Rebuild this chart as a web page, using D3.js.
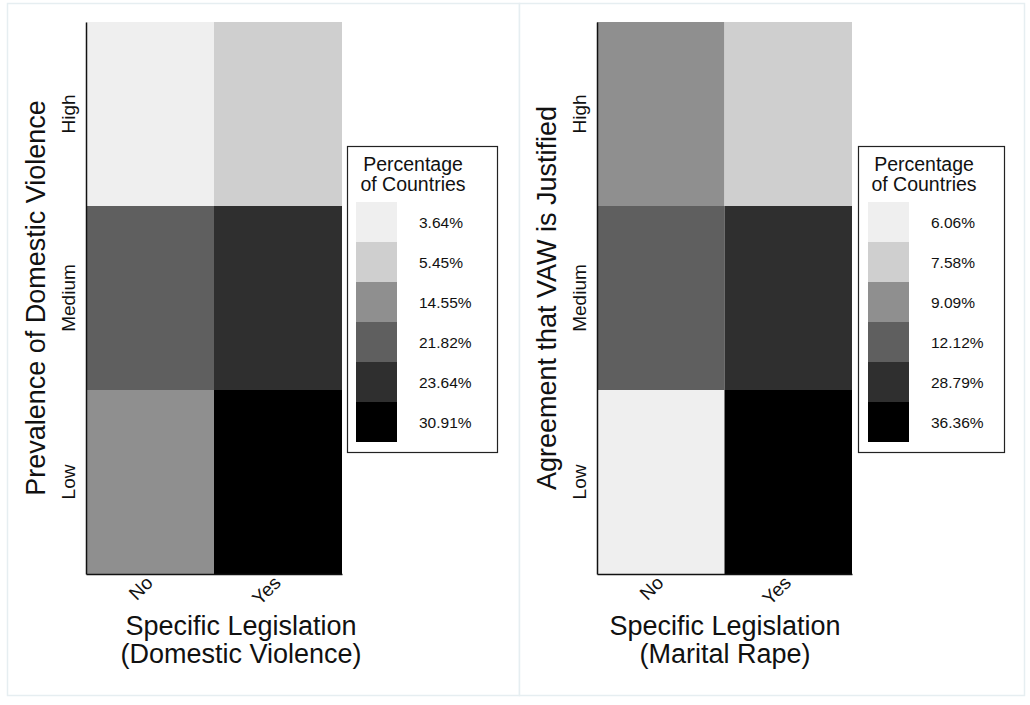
<!DOCTYPE html>
<html>
<head>
<meta charset="utf-8">
<script src="https://cdn.jsdelivr.net/npm/d3@7"></script>
<style>
  body { margin: 0; background: #fff; }
  text { font-family: "Liberation Sans", Arial, sans-serif; fill: #111; }
</style>
</head>
<body>
<div id="chart"></div>
<script>
(function(){
	var width = 1030,
	    height = 705;

	// categories
	var legislation = ["No", "Yes"];
	var levels = ["High", "Medium", "Low"];

	// percentage of countries, one value per level (High, Medium, Low)
	var domesticNo = [3.64, 21.82, 14.55];
	var domesticYes = [5.45, 23.64, 30.91];
	var maritalNo = [9.09, 12.12, 6.06];
	var maritalYes = [7.58, 28.79, 36.36];

	// grey steps, lightest to darkest
	var greys = ["#efefef", "#cfcfcf", "#8f8f8f", "#5f5f5f", "#2f2f2f", "#000000"];

	var svg = d3.select("#chart")
	  .append("svg")
	  .attr("width", width)
	  .attr("height", height)

	// turn the two columns into cells
	function toCells(noVals, yesVals) {
		var cells = [];
		levels.forEach(function(lv, i) {
			cells.push({ leg: "No", level: lv, value: noVals[i] })
			cells.push({ leg: "Yes", level: lv, value: yesVals[i] })
		})
		return cells
	}

	var panels = [
		{
			box: [7.5, 3.5, 512, 692],
			left: 86, right: 342, top: 22, bottom: 574,
			legendX: 347, legendW: 150, swatchX: 9,
			titleX: 241,
			yTitle: "Prevalence of Domestic Violence",
			xTitle: ["Specific Legislation", "(Domestic Violence)"],
			cells: toCells(domesticNo, domesticYes)
		},
		{
			box: [519.5, 3.5, 505, 692],
			left: 597, right: 852, top: 22, bottom: 574,
			legendX: 858, legendW: 146, swatchX: 10,
			titleX: 725,
			yTitle: "Agreement that VAW is Justified",
			xTitle: ["Specific Legislation", "(Marital Rape)"],
			cells: toCells(maritalNo, maritalYes)
		}
	]

	panels.forEach(drawPanel)

	function drawPanel(p) {
		var g = svg.append("g")

		// light frame round each panel
		g.append("rect")
		  .attr("x", p.box[0])
		  .attr("y", p.box[1])
		  .attr("width", p.box[2])
		  .attr("height", p.box[3])
		  .attr("fill", "#fff")
		  .attr("stroke", "#e6eef1")
		  .attr("stroke-width", 1.5)

		var x = d3.scaleBand().domain(legislation).range([p.left, p.right])
		var y = d3.scaleBand().domain(levels).range([p.top, p.bottom])

		// each value gets its grey by rank
		var sorted = p.cells.map(function(d) { return d.value }).sort(d3.ascending)
		var color = d3.scaleOrdinal().domain(sorted).range(greys)

		g.selectAll(".cell")
		  .data(p.cells)
		  .enter().append("rect")
		  .attr("class", "cell")
		  .attr("x", function(d) { return x(d.leg) })
		  .attr("y", function(d) { return y(d.level) })
		  .attr("width", x.bandwidth())
		  .attr("height", y.bandwidth())
		  .attr("fill", function(d) { return color(d.value) })

		// axis lines, left and bottom only
		var yAxis = g.append("g")
		  .attr("transform", "translate(" + p.left + ",0)")
		  .call(d3.axisLeft(y).tickSize(0))
		yAxis.select(".domain").attr("stroke", "#111").attr("stroke-width", 1.5)
		yAxis.selectAll(".tick")
		  .attr("transform", function(d) {
		  	return "translate(-11," + (y(d) + y.bandwidth() / 2) + ")"
		  })
		yAxis.selectAll(".tick text")
		  .attr("transform", "rotate(-90)")
		  .attr("x", 0).attr("y", 0)
		  .attr("dy", 0)
		  .attr("text-anchor", "middle")
		  .style("font-size", "19px")

		var xAxis = g.append("g")
		  .attr("transform", "translate(0," + p.bottom + ")")
		  .call(d3.axisBottom(x).tickSize(0))
		xAxis.select(".domain").attr("stroke", "#111").attr("stroke-width", 1.5)
		xAxis.selectAll(".tick text")
		  .attr("text-anchor", "end")
		  .attr("x", 0).attr("y", 0).attr("dy", 0)
		  .attr("transform", "translate(4,10) rotate(-45)")
		  .style("font-size", "19px")

		// axis titles
		g.append("text")
		  .attr("transform", "translate(" + (p.left - 41) + "," + ((p.top + p.bottom) / 2) + ") rotate(-90)")
		  .attr("text-anchor", "middle")
		  .style("font-size", "27px")
		  .text(p.yTitle)

		g.selectAll(".x-title")
		  .data(p.xTitle)
		  .enter().append("text")
		  .attr("class", "x-title")
		  .attr("x", p.titleX)
		  .attr("y", function(d, i) { return 635 + i * 28 })
		  .attr("text-anchor", "middle")
		  .style("font-size", "27px")
		  .text(function(d) { return d })

		// legend
		var lg = g.append("g")
		  .attr("transform", "translate(" + p.legendX + ",146)")

		lg.append("rect")
		  .attr("x", 0.5).attr("y", 0.5)
		  .attr("width", p.legendW)
		  .attr("height", 306)
		  .attr("fill", "#fff")
		  .attr("stroke", "#222")
		  .attr("stroke-width", 1.2)

		lg.selectAll(".lg-title")
		  .data(["Percentage", "of Countries"])
		  .enter().append("text")
		  .attr("class", "lg-title")
		  .attr("x", 66)
		  .attr("y", function(d, i) { return 25 + i * 20 })
		  .attr("text-anchor", "middle")
		  .style("font-size", "19.5px")
		  .text(function(d) { return d })

		var ly = d3.scaleBand().domain(sorted).range([56, 296])

		lg.selectAll(".swatch")
		  .data(sorted)
		  .enter().append("rect")
		  .attr("class", "swatch")
		  .attr("x", p.swatchX)
		  .attr("y", function(d) { return ly(d) })
		  .attr("width", 41)
		  .attr("height", ly.bandwidth())
		  .attr("fill", function(d) { return color(d) })

		lg.selectAll(".lg-label")
		  .data(sorted)
		  .enter().append("text")
		  .attr("class", "lg-label")
		  .attr("x", p.swatchX + 63)
		  .attr("y", function(d) { return ly(d) + ly.bandwidth() / 2 + 5.5 })
		  .style("font-size", "15.5px")
		  .text(function(d) { return d.toFixed(2) + "%" })
	}

})();
</script>
</body>
</html>
